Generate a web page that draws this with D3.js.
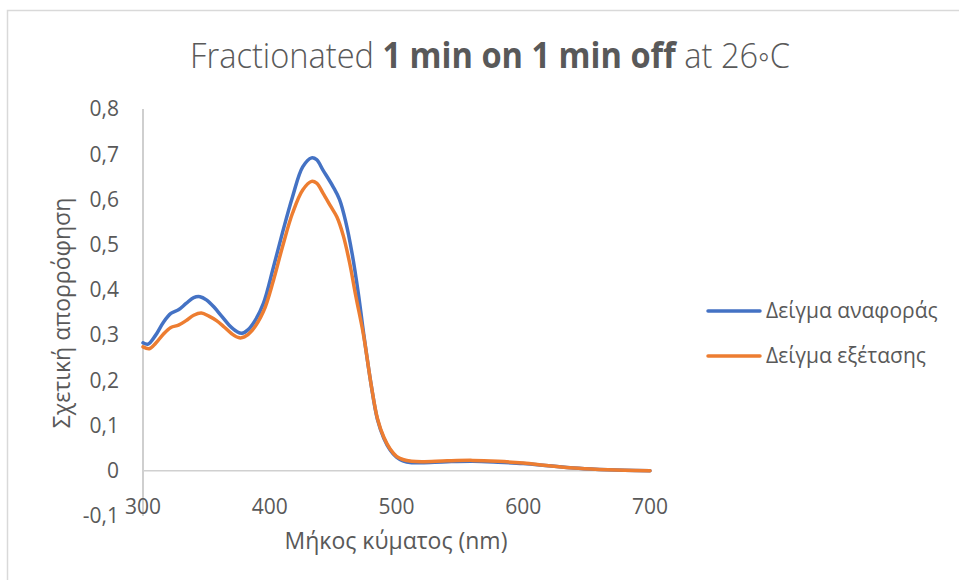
<!DOCTYPE html>
<html><head><meta charset="utf-8">
<script src="https://cdn.jsdelivr.net/npm/d3@7"></script>
<style>body{margin:0;background:#fff}svg{display:block}</style>
</head><body>
<svg id="c" width="959" height="580"></svg>
<script>
const wavelengths1 = [300,304,310,316,322,328,334,340,345,350,356,362,368,374,378,383,388,395,403,410,418,426,433,437,442,450,455,460,465,470,474,480,485,490,495,500,505,512,520,540,560,580,600,620,640,660,680,700];
const reference = [0.283,0.280,0.300,0.328,0.348,0.356,0.370,0.383,0.385,0.378,0.362,0.342,0.322,0.308,0.304,0.312,0.330,0.370,0.451,0.526,0.606,0.672,0.692,0.688,0.665,0.628,0.600,0.550,0.480,0.390,0.305,0.190,0.113,0.072,0.046,0.030,0.022,0.018,0.018,0.020,0.021,0.019,0.016,0.011,0.006,0.003,0.001,0.000];
const wavelengths2 = [300,305,310,316,322,328,334,340,346,352,358,364,370,376,380,386,395,403,410,418,426,433,437,442,448,453,458,463,468,474,480,485,490,495,500,505,512,520,540,560,580,600,620,640,660,680,700];
const test = [0.274,0.270,0.282,0.302,0.317,0.322,0.332,0.344,0.349,0.342,0.332,0.318,0.303,0.294,0.296,0.310,0.352,0.422,0.495,0.570,0.621,0.640,0.636,0.614,0.585,0.561,0.520,0.460,0.385,0.300,0.190,0.115,0.074,0.048,0.032,0.025,0.021,0.020,0.022,0.023,0.021,0.017,0.011,0.006,0.003,0.001,0.000];
const xTicks = [300,400,500,600,700];
const yTicks = [-0.1,0,0.1,0.2,0.3,0.4,0.5,0.6,0.7,0.8];
const seriesNames = ["Δείγμα αναφοράς","Δείγμα εξέτασης"];
const colors = ["#4472C4","#ED7D31"];

const svg = d3.select("#c");
const font = "'Open Sans', sans-serif";
const txt = "#595959";

// outer border
svg.append("rect").attr("x",7.5).attr("y",10.5).attr("width",1000).attr("height",600)
  .attr("fill","none").attr("stroke","#d9d9d9").attr("stroke-width",1.5);

const x = d3.scaleLinear().domain([300,700]).range([143,650]);
const y = d3.scaleLinear().domain([-0.1,0.8]).range([516,109]);

// axes lines
svg.append("line").attr("x1",x(300)).attr("x2",x(300)).attr("y1",y(0.8)).attr("y2",y(-0.1))
  .attr("stroke","#bfbfbf").attr("stroke-width",1.5);
svg.append("line").attr("x1",x(300)).attr("x2",x(700)).attr("y1",y(0)).attr("y2",y(0))
  .attr("stroke","#d0d0d0").attr("stroke-width",1.5);

// y tick labels
const fmt = v => d3.format(".1f")(v).replace(".",",").replace("−","-");
svg.append("g").selectAll("text").data(yTicks).join("text")
  .attr("x",119).attr("y",d=>y(d)).attr("dy","0.35em").attr("text-anchor","end")
  .attr("font-family",font).attr("font-size",21).attr("fill",txt)
  .text(d=> d===0 ? "0" : fmt(d));

// x tick labels
svg.append("g").selectAll("text").data(xTicks).join("text")
  .attr("x",d=>x(d)).attr("y",507).attr("dy","0.35em").attr("text-anchor","middle")
  .attr("font-family",font).attr("font-size",21).attr("fill",txt)
  .text(d=>d);

// axis titles
svg.append("text").attr("x",396).attr("y",549).attr("text-anchor","middle")
  .attr("font-family",font).attr("font-size",23).attr("fill",txt).text("Μήκος κύματος (nm)");
svg.append("text").attr("transform","translate(70,313) rotate(-90)").attr("text-anchor","middle")
  .attr("font-family",font).attr("font-size",23).attr("fill",txt).text("Σχετική απορρόφηση");

// title
const title = svg.append("text").attr("x",490).attr("y",68).attr("text-anchor","middle")
  .attr("font-family",font).attr("font-size",35).attr("fill",txt);
title.append("tspan").attr("font-weight",300).text("Fractionated ");
title.append("tspan").attr("font-weight",700).text("1 min on 1 min off");
title.append("tspan").attr("font-weight",300).text(" at 26◦C");
const tw = title.node().getComputedTextLength();
const target = 600;
title.attr("transform",`translate(490,0) scale(${target/tw},1) translate(-490,0)`);

// lines
const line = d3.line().x(d=>x(d[0])).y(d=>y(d[1])).curve(d3.curveCatmullRom.alpha(0.5));
const data = [d3.zip(wavelengths1,reference), d3.zip(wavelengths2,test)];
data.forEach((d,i)=>{
  svg.append("path").datum(d).attr("d",line).attr("fill","none")
    .attr("stroke",colors[i]).attr("stroke-width",3.5).attr("stroke-linejoin","round").attr("stroke-linecap","round");
});

// legend
seriesNames.forEach((n,i)=>{
  const ly = 311 + i*45;
  svg.append("line").attr("x1",708).attr("x2",760).attr("y1",ly).attr("y2",ly)
    .attr("stroke",colors[i]).attr("stroke-width",3.5).attr("stroke-linecap","round");
  svg.append("text").attr("x",766).attr("y",ly).attr("dy","0.35em")
    .attr("font-family",font).attr("font-size",21).attr("fill",txt).text(n);
});
</script>
</body></html>
